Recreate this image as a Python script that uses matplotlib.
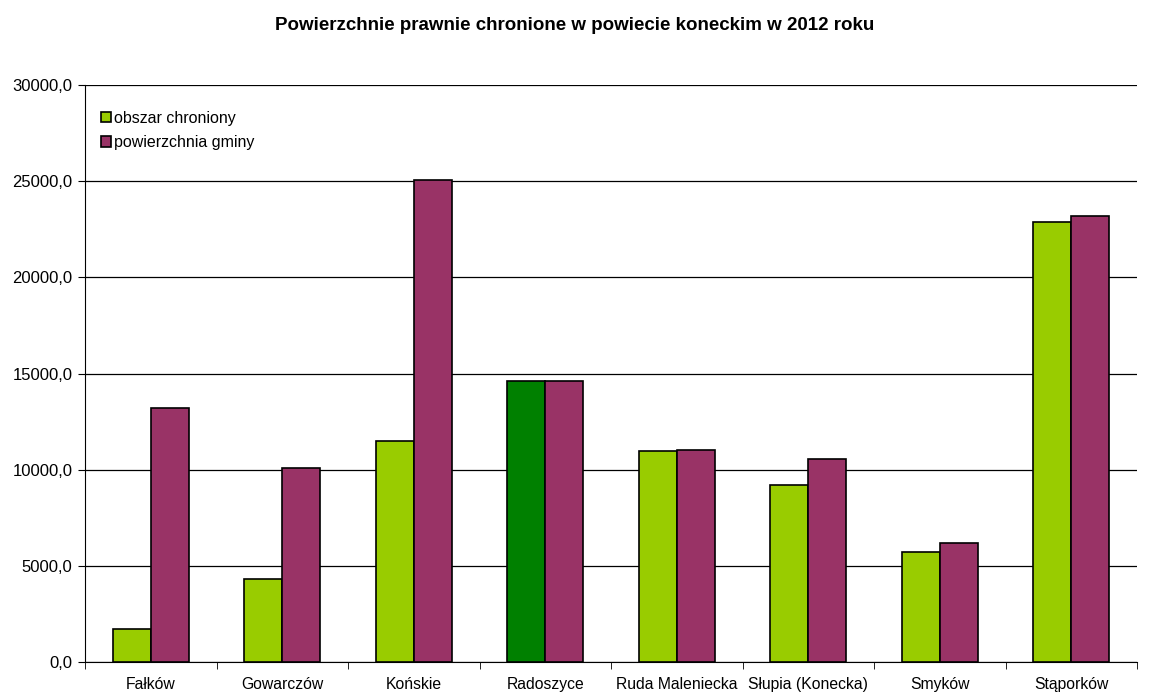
import matplotlib.pyplot as plt
import numpy as np

plt.rcParams['font.family'] = ['Liberation Sans', 'DejaVu Sans']

gminy = ["Fałków", "Gowarczów", "Końskie", "Radoszyce", "Ruda Maleniecka",
         "Słupia (Konecka)", "Smyków", "Stąporków"]
obszar = [1690, 4330, 11500, 14620, 10990, 9180, 5740, 22900]
powierzchnia = [13220, 10070, 25040, 14620, 11010, 10560, 6170, 23170]
yticks = [0, 5000, 10000, 15000, 20000, 25000, 30000]

green = "#99CC00"
purple = "#993366"
kolory = [green] * len(gminy)
kolory[3] = "#008000"

fig = plt.figure(figsize=(11.5, 6.95), dpi=100)
ax = fig.add_axes([85/1150, 1 - 662/695, 1052/1150, 577/695])

x = np.arange(len(gminy))
w = 0.29
ax.bar(x - w/2, obszar, w, color=kolory, edgecolor="black", linewidth=1.2,
       label="obszar chroniony", zorder=3)
ax.bar(x + w/2, powierzchnia, w, color=purple, edgecolor="black", linewidth=1.2,
       label="powierzchnia gminy", zorder=3)

ax.set_xlim(-0.5, len(gminy) - 0.5)
ax.set_ylim(0, 30000)
ax.set_yticks(yticks)
ax.set_yticklabels([f"{v:.1f}".replace(".", ",") for v in yticks], fontsize=12)
ax.yaxis.grid(True, color="black", linewidth=0.9, zorder=0)

ax.set_xticks(x)
ax.set_xticklabels(gminy, fontsize=11.3)
ax.set_xticks(np.arange(-0.5, len(gminy)), minor=True)
ax.tick_params(axis="x", which="major", length=0, pad=11)
ax.tick_params(axis="x", which="minor", length=5, direction="out")
ax.tick_params(axis="y", length=5, direction="out", pad=4)

for s in ["top", "right"]:
    ax.spines[s].set_visible(False)
ax.spines["left"].set_color("black")
ax.spines["bottom"].set_color("black")

ax.legend(loc="upper left", bbox_to_anchor=(0.005, 0.975), frameon=False,
          fontsize=11.5, handlelength=0.6, handleheight=0.6, handletextpad=0.2,
          labelspacing=0.6, borderaxespad=0.3)

fig.text(0.5, 1 - 26/695, "Powierzchnie prawnie chronione w powiecie koneckim w 2012 roku",
         ha="center", va="center", fontsize=13.5, fontweight="bold")

fig.savefig("out.png", dpi=100)
